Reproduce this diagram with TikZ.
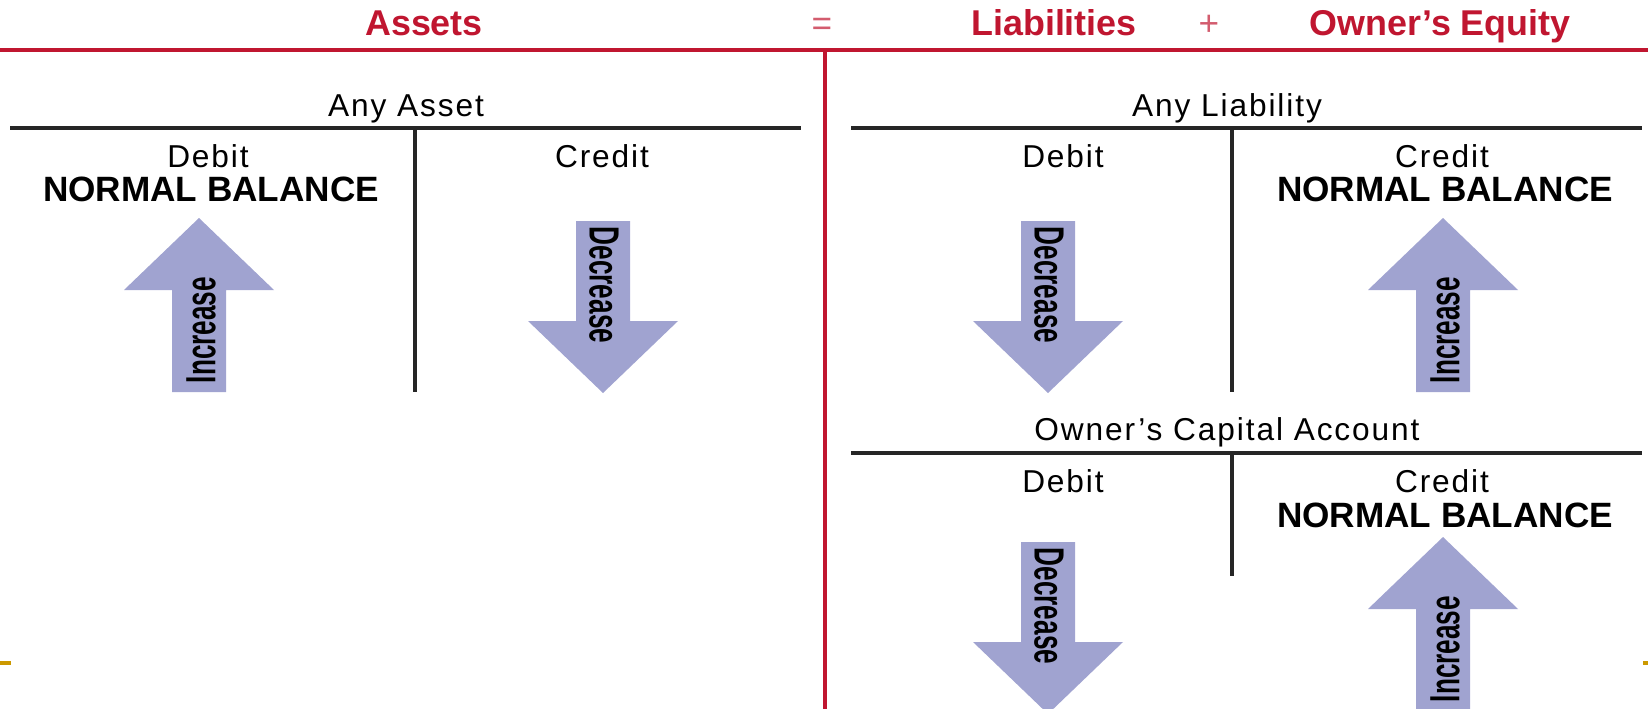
\documentclass[tikz,border=0pt]{standalone}
\usepackage{fontspec,graphicx}
\setmainfont{Liberation Sans}
\newfontfamily\spaced[LetterSpace=6]{Liberation Sans}
\definecolor{eqred}{RGB}{192,22,48}
\definecolor{arrowblue}{RGB}{160,163,208}
\definecolor{bulletgold}{RGB}{204,153,0}
\newcommand{\arrlabel}[1]{\scalebox{0.62}[1]{\fontsize{12}{12}\selectfont\bfseries #1}}

\begin{document}
\begin{tikzpicture}[x=0.01cm,y=-0.01cm,
    redline/.style={eqred,line width=0.9pt},
    tline/.style={black!85,line width=1.1pt},
    head/.style={eqred,font=\fontsize{10.2}{12}\selectfont\bfseries,anchor=base},
    sign/.style={eqred!70,font=\fontsize{10}{12}\selectfont,anchor=base},
    acct/.style={font=\fontsize{9}{11}\selectfont\spaced,anchor=base,inner sep=0pt},
    side/.style={font=\fontsize{9}{11}\selectfont\spaced,anchor=base,inner sep=0pt},
    normal/.style={font=\fontsize{10}{12}\selectfont\bfseries,anchor=base,inner sep=0pt},
    arrowfill/.style={fill=arrowblue}]
    \useasboundingbox (0,0) rectangle (1648,709);
    \clip (0,0) rectangle (1648,709);
    \fill[white] (0,0) rectangle (1648,709);

    \node[head] (assets) at (424,35) {Assets};
    \node[sign] (eq) at (822,35) {=};
    \node[head] (liab) at (1054,35) {Liabilities};
    \node[sign] (plus) at (1209,35) {+};
    \node[head] (equity) at (1440,35) {Owner’s Equity};
    \draw[redline] (0,50)--(1648,50);
    \draw[redline] (825,50)--(825,709);

    \node[acct] (anyasset) at (406,116) {Any Asset};
    \draw[tline] (10,128)--(801,128);
    \draw[tline] (415,128)--(415,392);
    \node[side] (adebit) at (208,167) {Debit};
    \node[normal] (anormal) at (211,201) {NORMAL BALANCE};
    \node[side] (acredit) at (602,167) {Credit};

    \node[acct] (anyliab) at (1227,116) {Any Liability};
    \draw[tline] (851,128)--(1642,128);
    \draw[tline] (1232,128)--(1232,392);
    \node[side] (ldebit) at (1063,167) {Debit};
    \node[side] (lcredit) at (1442,167) {Credit};
    \node[normal] (lnormal) at (1445,201) {NORMAL BALANCE};

    \node[acct] (capital) at (1227,440) {Owner’s Capital Account};
    \draw[tline] (851,453)--(1642,453);
    \draw[tline] (1232,453)--(1232,576);
    \node[side] (cdebit) at (1063,492) {Debit};
    \node[side] (ccredit) at (1442,492) {Credit};
    \node[normal] (cnormal) at (1445,527) {NORMAL BALANCE};

    \foreach \x/\y/\n in {199/218/a,1443/218/l,1443/537/c}{
        \fill[arrowfill] (\x,\y)--++(75,72)--++(-48,0)--++(0,102)--++(-54,0)--++(0,-102)--++(-48,0)--cycle;
        \node[rotate=90,inner sep=0pt] (inc\n) at (\x+2,\y+112) {\arrlabel{Increase}};
    }
    \foreach \x/\y/\n in {603/221/a,1048/221/l,1048/542/c}{
        \fill[arrowfill] (\x-27,\y)--++(54,0)--++(0,100)--++(48,0)--++(-75,72)--++(-75,-72)--++(48,0)--cycle;
        \node[rotate=-90,inner sep=0pt] (dec\n) at (\x+1,\y+64) {\arrlabel{Decrease}};
    }

    \fill[bulletgold] (0,661) rectangle (11,665);
    \fill[bulletgold] (1643,661) rectangle (1648,665);
\end{tikzpicture}
\end{document}
